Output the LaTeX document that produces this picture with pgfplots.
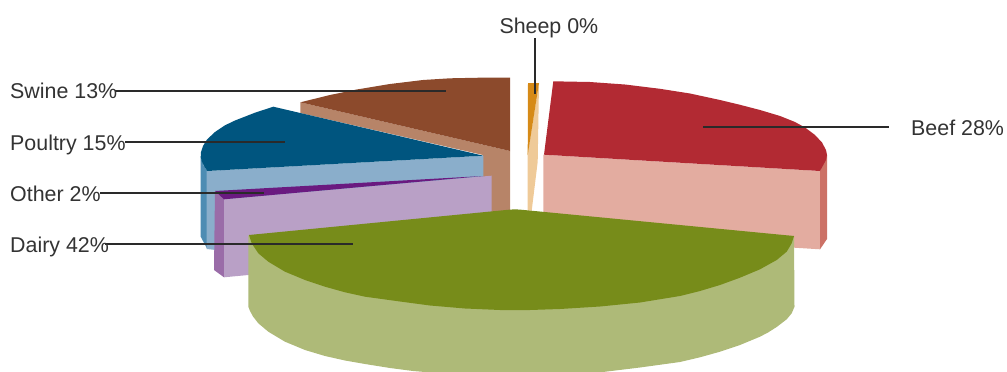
\documentclass[border=0pt]{standalone}
\usepackage{pgfplots}
\pgfplotsset{compat=1.18}
\usepackage{fontspec}
\setmainfont{Liberation Sans}
\definecolor{beefT}{HTML}{B22A33}\definecolor{beefF}{HTML}{E3ACA0}\definecolor{beefS}{HTML}{CC7166}
\definecolor{dairyT}{HTML}{778C1A}\definecolor{dairyF}{HTML}{AEBA78}
\definecolor{swineT}{HTML}{8C4A2C}\definecolor{swineF}{HTML}{B78468}
\definecolor{poulT}{HTML}{00557F}\definecolor{poulF}{HTML}{8AAECB}\definecolor{poulS}{HTML}{4D8CB3}
\definecolor{otherT}{HTML}{6A1A80}\definecolor{otherF}{HTML}{B9A0C6}\definecolor{otherS}{HTML}{9A6CA8}
\definecolor{sheepT}{HTML}{D68A17}\definecolor{sheepF}{HTML}{EFCA98}
\definecolor{leader}{HTML}{2A2A2A}\definecolor{lab}{HTML}{333333}
\tikzset{
  face/.style={fill=#1,draw=none},
  lead/.style={draw=leader,line width=1.6pt},
  lbl/.style={anchor=base west,text=lab,inner sep=0pt,font=\fontsize{21.4}{21.4}\selectfont}
}
\begin{document}
\begin{tikzpicture}
\begin{axis}[x=1pt,y=1pt,y dir=reverse,xmin=0,xmax=1007,ymin=0,ymax=372,hide axis,no markers,clip=true]
% Swine slice
\addplot[face=swineF] coordinates {(300.3,102.3)(510,151)(510,230)(483,230)(483,155)(300.3,113)};
\addplot[face=swineT] coordinates {(300.3,102.3)(330,95)(356.7,89.5)(390,84)(423,80)(450,78.3)(480,77.7)(510,77.7)(510,151)};
% Poultry slice
\addplot[face=poulS] coordinates {(200.7,156.7)(203.3,165)(207.3,171)(207.3,249)(200.7,236.7)};
\addplot[face=poulF] coordinates {(206.7,171)(483.3,155.7)(483.3,190)(225,251)(206.7,249)};
\addplot[face=poulT] coordinates {(273.3,106.7)(255,112.7)(235,120.5)(225,125.3)(215,132)(207,139.5)(203,146)(201,152)(200.7,157)(202,162)(204,166)(207.3,171)(483.3,155.7)};
% Other slice
\addplot[face=otherS] coordinates {(215,191)(224,199.3)(224,277.3)(214,270)};
\addplot[face=otherF] coordinates {(224,199.3)(491.7,175.7)(491.7,252)(224,277.3)};
\addplot[face=otherT] coordinates {(215,191)(483.3,176)(224,199.3)};
% Sheep slice
\addplot[face=sheepF] coordinates {(539,83)(537.7,161.7)(531.7,210.7)(527.7,210.7)(527.7,153.3)};
\addplot[face=sheepT] coordinates {(528,83)(539,83)(527.7,155)};
% Beef slice
\addplot[face=beefF] coordinates {(543.3,154.7)(820,171)(820,249.3)(543.3,232)};
\addplot[face=beefS] coordinates {(827,155)(820,171)(820,249.3)(827,239)};
\addplot[face=beefT] coordinates {(553.3,81.3)(590,82)(625,84.5)(660,88.8)(690,93.5)(720,100)(740,104.8)(760,110)(780,116)(795,122)(805,127.5)(815,135)(822,142.5)(826,150)(827,155)(826,160)(820,171)(544,154.7)};
% Dairy slice
\addplot[face=dairyF] coordinates {(248.5,235)(248.3,306.7)(250,311)(253,316.5)(258.3,323.3)(268.3,331.7)(285,341.7)(305,350)(325,356)(345,360.5)(365,364)(390,368)(413,371)(460,375)(510,378)(560,375.5)(603,372)(640,367.5)(680,362)(700,357.3)(720,351.7)(740,345)(760,336.7)(768,332.5)(776.7,327)(786.7,319.3)(791.7,313.3)(794.5,306.7)(794,236)};
\addplot[face=dairyT] coordinates {(249,235)(508,209.8)(515,209.3)(522,209.8)(794,236)(791.7,243.3)(786.7,251.7)(776.7,260)(760,269.3)(740,277.7)(720,285)(700,291)(680,296)(640,302.5)(600,306.5)(560,309)(530,310)(500,310)(465,308.5)(430,305.5)(400,301.5)(365,296.7)(345,292.3)(325,286.7)(305,280)(285,271.7)(268.3,261.7)(258.3,253.3)(251.7,243.3)};
% Leader lines
\addplot[lead] coordinates {(115,90.7)(446,90.7)};
\addplot[lead] coordinates {(125,141.7)(285,141.7)};
\addplot[lead] coordinates {(100,193)(264,193)};
\addplot[lead] coordinates {(105,244)(353,244)};
\addplot[lead] coordinates {(703,127)(889,127)};
\addplot[lead] coordinates {(535,38)(535,94)};
% Labels
\node[lbl] at (axis cs:10,98) {Swine 13\%};
\node[lbl] at (axis cs:10,150) {Poultry 15\%};
\node[lbl] at (axis cs:10,201) {Other 2\%};
\node[lbl] at (axis cs:10,252.7) {Dairy 42\%};
\node[lbl] at (axis cs:499.3,33) {Sheep 0\%};
\node[lbl] at (axis cs:911,135) {Beef 28\%};
\end{axis}
\path (0,0) rectangle (1007pt,372pt);
\end{tikzpicture}
\end{document}
